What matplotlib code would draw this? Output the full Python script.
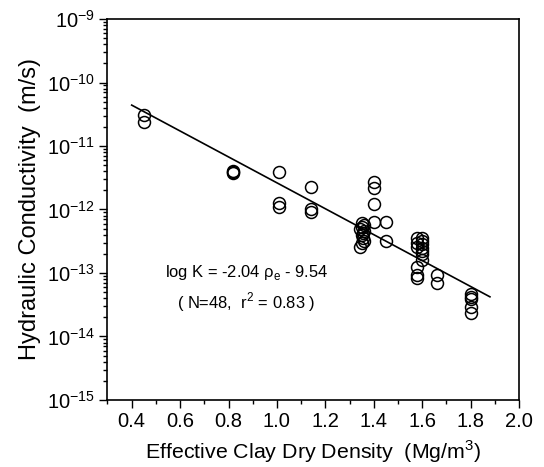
import numpy as np
import matplotlib
matplotlib.use("Agg")
import matplotlib.pyplot as plt
from matplotlib.ticker import MultipleLocator, LogLocator, FixedLocator, NullFormatter

plt.rcParams['font.family'] = ['Liberation Sans', 'DejaVu Sans']

# ---- data ----
density = [0.45, 0.45,
           0.82, 0.82, 0.82,
           1.01, 1.01, 1.01,
           1.14, 1.14, 1.14,
           1.35, 1.36, 1.345, 1.36, 1.35, 1.355, 1.35, 1.345, 1.36, 1.35, 1.355,
           1.40, 1.40, 1.40, 1.40,
           1.45, 1.45,
           1.58, 1.58, 1.58, 1.58, 1.58, 1.58,
           1.60, 1.60, 1.60, 1.60, 1.60, 1.60, 1.60,
           1.66, 1.66,
           1.80, 1.80, 1.80, 1.80, 1.80]
conductivity = [3.1e-11, 2.4e-11,
                4.0e-12, 3.7e-12, 3.85e-12,
                3.9e-12, 1.25e-12, 1.08e-12,
                2.3e-12, 1.0e-12, 9.0e-13,
                6.1e-13, 5.6e-13, 5.0e-13, 4.6e-13, 4.0e-13, 3.5e-13, 3.0e-13, 2.6e-13, 3.2e-13, 5.3e-13, 4.3e-13,
                2.7e-12, 2.2e-12, 1.2e-12, 6.4e-13,
                6.4e-13, 3.2e-13,
                3.5e-13, 2.6e-13, 1.26e-13, 9.3e-14, 8.2e-14, 3.0e-13,
                3.5e-13, 2.9e-13, 2.45e-13, 2.0e-13, 1.6e-13, 3.2e-13, 2.2e-13,
                9.3e-14, 7.0e-14,
                4.6e-14, 3.9e-14, 2.9e-14, 2.35e-14, 4.2e-14]

# regression line as printed on the chart
slope = -2.04
intercept = -9.54
fit_range = [0.40, 1.88]

xticks = [0.4, 0.6, 0.8, 1.0, 1.2, 1.4, 1.6, 1.8, 2.0]
yexp = [-15, -14, -13, -12, -11, -10, -9]

fig = plt.figure(figsize=(5.44, 4.67), dpi=100)
ax = fig.add_axes([0.1976, 0.1435, 0.7564, 0.8158])

ax.plot(density, conductivity, 'o', mfc='none', mec='black', mew=1.1, ms=8.6, zorder=3)

fx = np.array(fit_range)
ax.plot(fx, 10 ** (slope * fx + intercept), color='black', lw=1.2, zorder=2)

ax.set_yscale('log')
ax.set_xlim(0.3, 2.0)
ax.set_ylim(1e-15, 1e-9)

ax.xaxis.set_major_locator(FixedLocator(xticks))
ax.xaxis.set_minor_locator(MultipleLocator(0.1))
ax.set_xticklabels([f"{v:.1f}" for v in xticks])

ax.yaxis.set_major_locator(FixedLocator([10.0 ** e for e in yexp]))
ax.yaxis.set_minor_locator(LogLocator(base=10, subs=np.arange(2, 10), numticks=20))
ax.yaxis.set_minor_formatter(NullFormatter())
ax.set_yticklabels([r"10$^{\mathregular{%d}}$" % e for e in yexp])

ax.tick_params(which='major', direction='out', length=6, width=1, labelsize=14.5, pad=3)
ax.tick_params(which='minor', direction='out', length=3, width=1)
for s in ax.spines.values():
    s.set_linewidth(1.2)

ax.set_xlabel(r"Effective Clay Dry Density  (Mg/m$^{\mathregular{3}}$)", fontsize=15.4, labelpad=5)
ax.set_ylabel("Hydraulic Conductivity  (m/s)", fontsize=17, labelpad=4)

ax.text(0.875, 10 ** -13.0, r"log K = -2.04 ρ$_{\mathregular{e}}$ - 9.54", fontsize=11.9,
        ha='center', va='center')
ax.text(0.875, 10 ** -13.46, r"( N=48,  r$^{\mathregular{2}}$ = 0.83 )", fontsize=11.9,
        ha='center', va='center')

fig.savefig("out.png", dpi=100)
